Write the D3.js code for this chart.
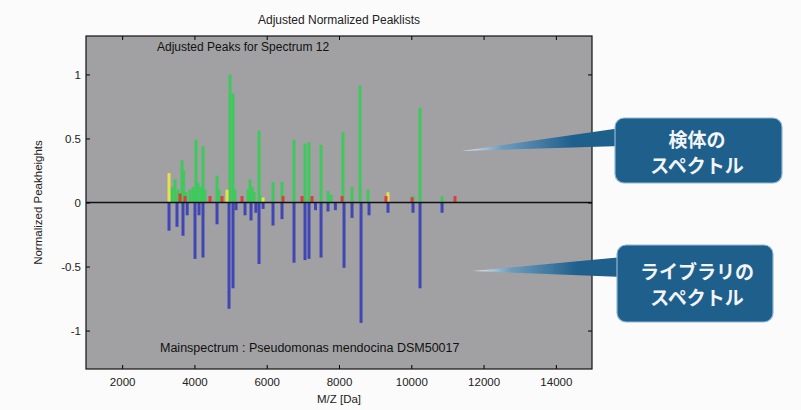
<!DOCTYPE html>
<html>
<head>
<meta charset="utf-8">
<script src="https://cdn.jsdelivr.net/npm/d3@7/dist/d3.min.js"></script>
<style>
  body { margin: 0; background: #fbfbfb; }
  svg { display: block; }
</style>
</head>
<body>
<svg id="chart"></svg>
<script>
// peaks of the measured spectrum, [m/z, normalized height]
var matchedPeaks = [
  [3380, 0.12], [3463, 0.18], [3550, 0.10], [3656, 0.33], [3700, 0.25],
  [3767, 0.08], [3878, 0.10], [3960, 0.12], [4016, 0.10], [4044, 0.49],
  [4100, 0.15], [4180, 0.12], [4237, 0.44], [4290, 0.10], [4625, 0.21],
  [4680, 0.10], [4984, 1.00], [5067, 0.85], [5120, 0.10], [5483, 0.10],
  [5538, 0.18], [5600, 0.12], [5650, 0.08], [5787, 0.56], [5850, 0.05],
  [6174, 0.16], [6423, 0.16], [6755, 0.49], [7060, 0.46], [7170, 0.47],
  [7503, 0.45], [7696, 0.09], [7780, 0.06], [8111, 0.55], [8360, 0.12],
  [8582, 0.91], [8803, 0.10], [10048, 0.05], [10242, 0.74], [10851, 0.05]
];
var weakPeaks = [[3297, 0.23], [4901, 0.10], [5898, 0.04], [9356, 0.08]];
var unmatchedPeaks = [
  [3601, 0.07], [3740, 0.05], [4431, 0.05], [4763, 0.05], [5317, 0.05],
  [6451, 0.05], [6977, 0.05], [7253, 0.05], [8084, 0.05], [9300, 0.05],
  [10020, 0.04], [11210, 0.05]
];
// main spectrum from the library, drawn downwards
var libraryPeaks = [
  [3297, -0.22], [3518, -0.19], [3684, -0.26], [3800, -0.10], [4016, -0.44],
  [4127, -0.10], [4237, -0.43], [4625, -0.17], [4957, -0.83], [5067, -0.67],
  [5150, -0.06], [5400, -0.10], [5566, -0.14], [5700, -0.08], [5787, -0.48],
  [5900, -0.05], [6174, -0.18], [6423, -0.13], [6755, -0.47], [7060, -0.45],
  [7170, -0.44], [7350, -0.06], [7503, -0.43], [7696, -0.07], [7900, -0.06],
  [8139, -0.51], [8360, -0.12], [8610, -0.94], [8831, -0.10], [9356, -0.08],
  [10048, -0.08], [10242, -0.67], [10851, -0.08]
];
var xTicks = [2000, 4000, 6000, 8000, 10000, 12000, 14000];
var yTicks = [-1, -0.5, 0, 0.5, 1];

var width = 801, height = 410;
var margin = {top: 36, right: 209, bottom: 41, left: 86};
var plotW = width - margin.left - margin.right;
var plotH = height - margin.top - margin.bottom;

var svg = d3.select("#chart").attr("width", width).attr("height", height);

var x = d3.scaleLinear().domain([1000, 15000]).range([0, plotW]);
var y = d3.scaleLinear().domain([-1.3, 1.3]).range([plotH, 0]);

var g = svg.append("g")
  .attr("transform", "translate(" + margin.left + "," + margin.top + ")");

g.append("rect")
  .attr("width", plotW).attr("height", plotH)
  .attr("fill", "#a1a1a3");

//peaks
function drawPeaks(data, color) {
  g.selectAll(null)
    .data(data)
    .enter()
    .append("rect")
    .attr("x", function(d) { return x(d[0]) - 1.5; })
    .attr("y", function(d) { return Math.min(y(d[1]), y(0)); })
    .attr("width", 3)
    .attr("height", function(d) { return Math.abs(y(d[1]) - y(0)); })
    .attr("fill", color);
}
drawPeaks(matchedPeaks, "#3fc95c");
drawPeaks(weakPeaks, "#e6e04c");
drawPeaks(unmatchedPeaks, "#d8403a");
drawPeaks(libraryPeaks, "#4046b4");

g.append("line")
  .attr("x1", 0).attr("x2", plotW)
  .attr("y1", y(0)).attr("y2", y(0))
  .attr("stroke", "#111").attr("stroke-width", 1.5);

//axes with inward ticks on all four sides
var axisFont = "11.5px 'Liberation Sans', Arial, sans-serif";
g.append("g")
  .attr("transform", "translate(0," + plotH + ")")
  .call(d3.axisBottom(x).tickValues(xTicks).tickFormat(d3.format("d"))
    .tickSizeInner(-4).tickSizeOuter(0).tickPadding(9))
  .call(function(a) { a.select(".domain").remove(); })
  .selectAll("text").style("font", axisFont).attr("fill", "#222");
g.append("g")
  .call(d3.axisTop(x).tickValues(xTicks).tickSizeInner(-4).tickSizeOuter(0))
  .call(function(a) { a.select(".domain").remove(); a.selectAll("text").remove(); });
g.append("g")
  .call(d3.axisLeft(y).tickValues(yTicks).tickSizeInner(-4).tickSizeOuter(0).tickPadding(5)
    .tickFormat(function(d) { return d; }))
  .call(function(a) { a.select(".domain").remove(); })
  .selectAll("text").style("font", axisFont).attr("fill", "#222");
g.append("g")
  .attr("transform", "translate(" + plotW + ",0)")
  .call(d3.axisRight(y).tickValues(yTicks).tickSizeInner(-4).tickSizeOuter(0))
  .call(function(a) { a.select(".domain").remove(); a.selectAll("text").remove(); });

g.append("rect")
  .attr("width", plotW).attr("height", plotH)
  .attr("fill", "none").attr("stroke", "#111").attr("stroke-width", 1.2);

//texts
var textFont = "'Liberation Sans', Arial, sans-serif";
svg.append("text")
  .attr("x", margin.left + plotW / 2).attr("y", 24)
  .attr("text-anchor", "middle")
  .style("font", "12px " + textFont).attr("fill", "#222")
  .text("Adjusted Normalized Peaklists");
svg.append("text")
  .attr("x", 157).attr("y", 51)
  .style("font", "12px " + textFont).attr("fill", "#111")
  .text("Adjusted Peaks for Spectrum 12");
svg.append("text")
  .attr("x", 160).attr("y", 352)
  .style("font", "12.5px " + textFont).attr("fill", "#111")
  .text("Mainspectrum : Pseudomonas mendocina DSM50017");
svg.append("text")
  .attr("x", margin.left + x(8000)).attr("y", 403)
  .attr("text-anchor", "middle")
  .style("font", "11.5px " + textFont).attr("fill", "#222")
  .text("M/Z [Da]");
svg.append("text")
  .attr("transform", "translate(42," + (margin.top + y(0)) + ") rotate(-90)")
  .attr("text-anchor", "middle")
  .style("font", "11.5px " + textFont).attr("fill", "#222")
  .text("Normalized Peakheights");

//callouts
var defs = svg.append("defs");
var grad = defs.append("linearGradient").attr("id", "wedge")
  .attr("x1", "0%").attr("x2", "100%").attr("y1", "0%").attr("y2", "0%");
grad.append("stop").attr("offset", "0%").attr("stop-color", "#e4eef4");
grad.append("stop").attr("offset", "25%").attr("stop-color", "#6f9cbd");
grad.append("stop").attr("offset", "70%").attr("stop-color", "#1e5f8c");

var callouts = [
  {tip: [462, 151], base: [128, 146], box: [615, 118, 167, 65], lines: ["検体の", "スペクトル"], baselines: [147, 173]},
  {tip: [473, 271], base: [257, 277], box: [617, 245, 156, 77], lines: ["ライブラリの", "スペクトル"], baselines: [279, 305]}
];
callouts.forEach(function(c) {
  var bx = c.box[0];
  svg.append("path")
    .attr("d", "M" + c.tip[0] + "," + c.tip[1] + "L" + (bx + 6) + "," + c.base[0] +
      "L" + (bx + 6) + "," + c.base[1] + "Z")
    .attr("fill", "url(#wedge)");
  svg.append("rect")
    .attr("x", c.box[0]).attr("y", c.box[1])
    .attr("width", c.box[2]).attr("height", c.box[3])
    .attr("rx", 9).attr("ry", 9)
    .attr("fill", "#1e5f8c")
    .attr("stroke", "#8fb8d6").attr("stroke-width", 1.2);
  c.lines.forEach(function(t, i) {
    svg.append("text")
      .attr("x", 697).attr("y", c.baselines[i])
      .attr("text-anchor", "middle")
      .style("font", "bold 19px 'Noto Sans CJK JP', sans-serif")
      .attr("fill", "#f2f4f6")
      .text(t);
  });
});
</script>
</body>
</html>
